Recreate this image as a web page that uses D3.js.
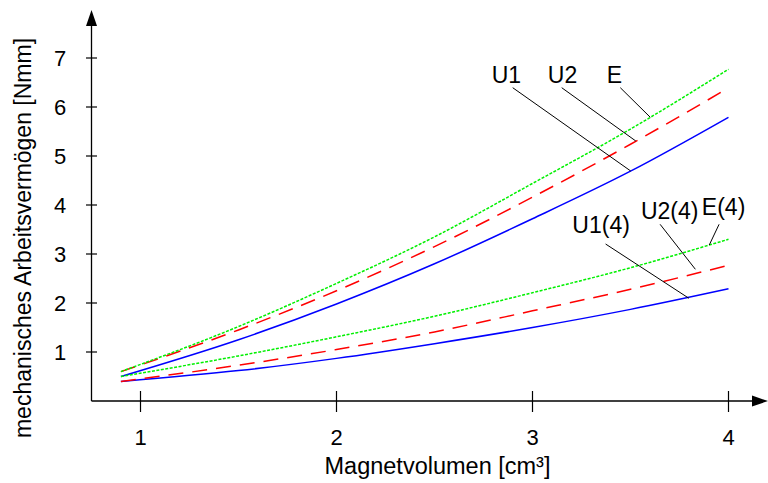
<!DOCTYPE html>
<html><head><meta charset="utf-8">
<script src="https://cdn.jsdelivr.net/npm/d3@7"></script>
<style>body{margin:0;background:#fff}svg{display:block}text{font-family:"Liberation Sans",Arial,sans-serif;fill:#000}</style>
</head><body><svg id="c" width="768" height="483"></svg>
<script>
// ---- data ----
const xValues = [0.9, 1.5, 2.0, 2.5, 3.0, 3.5, 4.0];
const U1  = [0.50, 1.25, 1.98, 2.80, 3.72, 4.69, 5.79];
const U2  = [0.60, 1.45, 2.25, 3.15, 4.16, 5.24, 6.39];
const E   = [0.60, 1.52, 2.40, 3.35, 4.44, 5.55, 6.77];
const U1_4 = [0.40, 0.62, 0.87, 1.17, 1.50, 1.87, 2.29];
const U2_4 = [0.40, 0.73, 1.05, 1.41, 1.84, 2.28, 2.77];
const E_4  = [0.50, 0.92, 1.31, 1.73, 2.21, 2.72, 3.30];
const xTicks = [1, 2, 3, 4];
const yTicks = [1, 2, 3, 4, 5, 6, 7];
const labelNames = ["U1", "U2", "E", "U1(4)", "U2(4)", "E(4)"];
const xTitle = "Magnetvolumen [cm³]";
const yTitle = "mechanisches Arbeitsvermögen [Nmm]";

// ---- layout ----
const svg = d3.select("#c");
const x = d3.scaleLinear().domain([1, 4]).range([140.5, 728.5]);
const y = d3.scaleLinear().domain([0, 7]).range([401, 58]);
const x0 = x(0.75), y0 = y(0);

const series = [
  {v: U1,  color: "#0000ff", dash: null},
  {v: U2,  color: "#ff0000", dash: "15,9"},
  {v: E,   color: "#00f000", dash: "3,1.5"},
  {v: U1_4, color: "#0000ff", dash: null},
  {v: U2_4, color: "#ff0000", dash: "15,9"},
  {v: E_4,  color: "#00f000", dash: "3,1.5"}
];
const line = d3.line().x(d => x(d[0])).y(d => y(d[1])).curve(d3.curveMonotoneX);
series.forEach(s => {
  svg.append("path")
    .datum(xValues.map((xv, i) => [xv, s.v[i]]))
    .attr("d", line).attr("fill", "none")
    .attr("stroke", s.color).attr("stroke-width", 1.5)
    .attr("stroke-dasharray", s.dash);
});

// axes
svg.append("line").attr("x1", x0).attr("x2", 756).attr("y1", y0).attr("y2", y0).attr("stroke", "#000").attr("stroke-width", 1.3);
svg.append("path").attr("d", `M768,${y0} L752,${y0-5.5} L752,${y0+5.5} Z`).attr("fill", "#000");
svg.append("line").attr("x1", x0).attr("x2", x0).attr("y1", y0).attr("y2", 22).attr("stroke", "#000").attr("stroke-width", 1.3);
svg.append("path").attr("d", `M${x0},10 L${x0-5.5},26 L${x0+5.5},26 Z`).attr("fill", "#000");

xTicks.forEach(t => {
  svg.append("line").attr("x1", x(t)).attr("x2", x(t)).attr("y1", y0 - 10).attr("y2", y0 + 11).attr("stroke", "#000").attr("stroke-width", 1.2);
  svg.append("text").attr("x", x(t)).attr("y", 445).attr("text-anchor", "middle").attr("font-size", 22).text(t);
});
yTicks.forEach(t => {
  svg.append("line").attr("x1", x0 - 5.5).attr("x2", x0 + 5.5).attr("y1", y(t)).attr("y2", y(t)).attr("stroke", "#000").attr("stroke-width", 1.2);
  svg.append("text").attr("x", 60).attr("y", y(t) + 8).attr("text-anchor", "middle").attr("font-size", 22).text(t);
});

svg.append("text").attr("x", 437.5).attr("y", 474).attr("text-anchor", "middle").attr("font-size", 23.5).text(xTitle);
svg.append("text").attr("transform", "translate(31,238) rotate(-90)").attr("text-anchor", "middle").attr("font-size", 23).text(yTitle);

// annotations (label position, leader start, leader end in data units)
const ann = [
  {lx: 2.867, ly: 6.49, sx: 2.899, sy: 6.394, ex: 3.501, ey: 4.694},
  {lx: 3.153, ly: 6.49, sx: 3.149, sy: 6.394, ex: 3.527, ey: 5.306},
  {lx: 3.418, ly: 6.49, sx: 3.448, sy: 6.394, ex: 3.601, ey: 5.790},
  {lx: 3.350, ly: 3.42, sx: 3.373, sy: 3.204, ex: 3.798, ey: 2.096},
  {lx: 3.700, ly: 3.71, sx: 3.651, sy: 3.606, ex: 3.831, ey: 2.688},
  {lx: 3.975, ly: 3.79, sx: 3.952, sy: 3.606, ex: 3.902, ey: 3.184}
];
ann.forEach((a, i) => {
  svg.append("line").attr("x1", x(a.sx)).attr("y1", y(a.sy)).attr("x2", x(a.ex)).attr("y2", y(a.ey)).attr("stroke", "#000").attr("stroke-width", 1);
  svg.append("text").attr("x", x(a.lx)).attr("y", y(a.ly)).attr("text-anchor", "middle").attr("font-size", 23).text(labelNames[i]);
});
</script></body></html>
